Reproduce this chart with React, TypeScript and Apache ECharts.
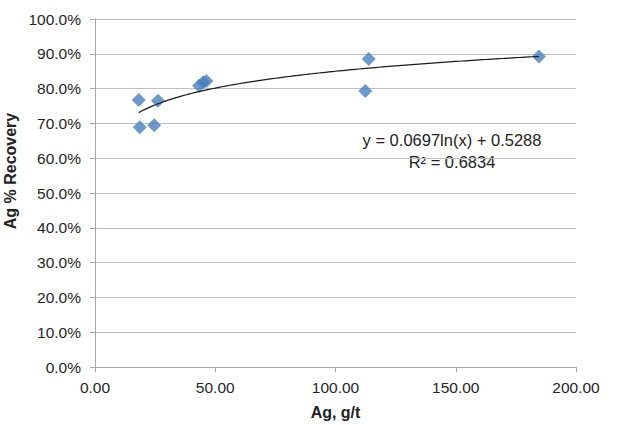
import React, { useEffect, useRef } from "react";
import * as echarts from "echarts";

const agGrade = [18.2, 18.6, 24.6, 26.2, 43.3, 45.0, 46.3, 112.4, 113.8, 184.6];
const recovery = [0.767, 0.689, 0.695, 0.765, 0.808, 0.818, 0.822, 0.793, 0.885, 0.892];
const xTicks = [0, 50, 100, 150, 200];
const yTicks = [0, 0.1, 0.2, 0.3, 0.4, 0.5, 0.6, 0.7, 0.8, 0.9, 1.0];
const trendA = 0.0697;
const trendB = 0.5288;
const rSquared = 0.6834;

export default function App() {
  const ref = useRef<HTMLDivElement>(null);
  useEffect(() => {
    if (!ref.current) return;
    const chart = echarts.init(ref.current, null, { renderer: "svg" });
    const minX = Math.min(...agGrade);
    const maxX = Math.max(...agGrade);
    const trend: number[][] = [];
    const steps = 120;
    for (let i = 0; i <= steps; i++) {
      const x = minX + ((maxX - minX) * i) / steps;
      trend.push([x, trendA * Math.log(x) + trendB]);
    }
    const font = "Liberation Sans, Arial, sans-serif";
    chart.setOption({
      animation: false,
      grid: { left: 95, right: 64, top: 19, bottom: 58 },
      xAxis: {
        type: "value",
        min: xTicks[0],
        max: xTicks[xTicks.length - 1],
        interval: 50,
        name: "Ag, g/t",
        nameLocation: "middle",
        nameGap: 37,
        nameTextStyle: { fontFamily: font, fontSize: 16, fontWeight: "bold", color: "#222" },
        axisLine: { lineStyle: { color: "#a6a6a6", width: 1 } },
        axisTick: { show: true, length: 5, lineStyle: { color: "#a6a6a6" } },
        axisLabel: {
          fontFamily: font,
          fontSize: 15.5,
          color: "#262626",
          margin: 12,
          formatter: (v: number) => v.toFixed(2),
        },
        splitLine: { show: false },
      },
      yAxis: {
        type: "value",
        min: yTicks[0],
        max: yTicks[yTicks.length - 1],
        interval: 0.1,
        axisLine: { show: true, lineStyle: { color: "#a6a6a6", width: 1 } },
        axisTick: { show: true, length: 5, lineStyle: { color: "#a6a6a6" } },
        axisLabel: {
          fontFamily: font,
          fontSize: 15.5,
          color: "#262626",
          margin: 14,
          formatter: (v: number) => (v * 100).toFixed(1) + "%",
        },
        splitLine: { show: true, lineStyle: { color: "#bfbfbf", width: 1 } },
      },
      graphic: [
        {
          type: "text",
          x: 10,
          y: 171,
          rotation: Math.PI / 2,
          style: {
            text: "Ag % Recovery",
            fontFamily: font,
            fontSize: 16,
            fontWeight: "bold",
            fill: "#222",
            align: "center",
            verticalAlign: "middle",
          },
        },
        {
          type: "text",
          x: 452,
          y: 140,
          style: {
            text: `y = ${trendA}ln(x) + ${trendB}`,
            fontFamily: font,
            fontSize: 16.5,
            fill: "#222",
            align: "center",
            verticalAlign: "middle",
          },
        },
        {
          type: "text",
          x: 452,
          y: 162,
          style: {
            text: `R² = ${rSquared}`,
            fontFamily: font,
            fontSize: 16.5,
            fill: "#222",
            align: "center",
            verticalAlign: "middle",
          },
        },
      ],
      series: [
        {
          type: "scatter",
          symbol: "diamond",
          symbolSize: [14, 14],
          itemStyle: { color: "#4a7ebb" },
          data: agGrade.map((x, i) => [x, recovery[i]]),
        },
        {
          type: "line",
          data: trend,
          showSymbol: false,
          symbol: "none",
          lineStyle: { color: "#1a1a1a", width: 1.2 },
          z: 5,
        },
      ],
    });
    return () => chart.dispose();
  }, []);
  return (
    <div
      ref={ref}
      style={{ position: "absolute", left: 0, top: 0, width: 640, height: 425, background: "#fff" }}
    />
  );
}
